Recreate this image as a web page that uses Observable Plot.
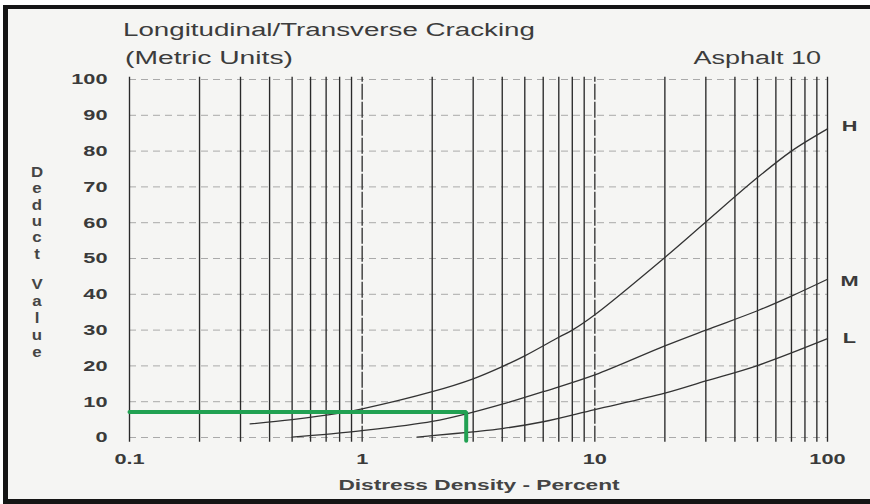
<!DOCTYPE html>
<html>
<head>
<meta charset="utf-8">
<script src="https://cdn.jsdelivr.net/npm/d3@7"></script>
<script src="https://cdn.jsdelivr.net/npm/@observablehq/plot@0.6"></script>
<style>
html,body{margin:0;padding:0;background:#fff;}
#wrap{position:relative;width:870px;height:504px;overflow:hidden;background:#fff;}
#frame{position:absolute;left:3px;top:5px;width:900px;height:499px;box-sizing:border-box;border-left:5px solid #151515;border-top:4px solid #151515;border-bottom:5px solid #151515;background:#f5f5f3;}
#plot{position:absolute;left:0;top:0;}
.t{position:absolute;font-family:"Liberation Sans",Arial,sans-serif;color:#3a3a3a;white-space:nowrap;line-height:1;}
</style>
</head>
<body>
<div id="wrap"><div id="frame"></div><div id="plot"></div></div>
<script>
// ---- data ----
const title = "Longitudinal/Transverse Cracking";
const subtitle = "(Metric Units)";
const tag = "Asphalt 10";
const xLabel = "Distress Density - Percent";
const yLabelTop = "Deduct";
const yLabelBottom = "Value";

const xTicks = [0.1, 1, 10, 100];
const xTickLabels = ["0.1", "1", "10", "100"];
const yTicks = [0, 10, 20, 30, 40, 50, 60, 70, 80, 90, 100];
const xGrid = [0.1, 0.2, 0.3, 0.4, 0.5, 0.6, 0.7, 0.8, 0.9,
               2, 3, 4, 5, 6, 7, 8, 9,
               20, 30, 40, 50, 60, 70, 80, 90, 100];
const xGridDashed = [1, 10];

const hX = [0.33, 0.5, 0.8, 1, 2, 3, 4, 5, 7, 8, 10, 20, 30, 50, 70, 100];
const hY = [3.8, 5.0, 6.8, 8.0, 12.8, 16.4, 19.8, 22.8, 28.0, 30.0, 34.3, 50.3, 60.2, 72.6, 80.0, 86.2];
const mX = [0.5, 0.7, 1, 2, 3, 4, 6, 10, 20, 30, 50, 70, 100];
const mY = [0.1, 0.9, 1.9, 4.5, 7.1, 9.3, 12.8, 17.5, 25.6, 30.0, 35.4, 39.5, 44.2];
const lX = [1.72, 2, 3, 4, 6, 10, 20, 30, 50, 100];
const lY = [0.1, 0.5, 1.6, 2.5, 4.4, 7.8, 12.4, 15.8, 20.1, 27.6];
const seriesNames = ["H", "M", "L"];

const greenX = [0.1, 2.8, 2.8];
const greenY = [7.1, 7.1, -0.9];

// ---- build ----
const toRows = (xs, ys) => xs.map((x, i) => ({x, y: ys[i]}));
const H = toRows(hX, hY), M = toRows(mX, mY), L = toRows(lX, lY), G = toRows(greenX, greenY);
const tickLabel = new Map(xTicks.map((d, i) => [d, xTickLabels[i]]));
const curveStyle = {x: "x", y: "y", curve: "catmull-rom", stroke: "#333", strokeWidth: 1.3};
const endLabel = (rows, name, dy) => Plot.text([rows[rows.length - 1]], {
  x: "x", y: "y", text: () => name, dx: 22, dy, textAnchor: "middle",
  fontSize: 15, fontWeight: "bold", fill: "#3a3a3a"
});

const svg = Plot.plot({
  width: 870, height: 504,
  marginLeft: 129, marginRight: 43, marginTop: 79, marginBottom: 67,
  style: {background: "transparent", fontFamily: "'Liberation Sans', Arial, sans-serif", fontSize: "15px", fontWeight: "bold", color: "#3a3a3a"},
  x: {type: "log", domain: [0.1, 100]},
  y: {domain: [0, 100]},
  marks: [
    Plot.ruleY(yTicks, {x1: 0.1, x2: 100, stroke: "#8a8a8a", strokeDasharray: "7,5", strokeWidth: 1, strokeOpacity: 0.7}),
    Plot.ruleX(xGrid, {y1: -1.3, y2: 100.6, stroke: "#2a2a2a", strokeWidth: 1.35}),
    Plot.ruleX(xGridDashed, {y1: -1.3, y2: 100.6, stroke: "#333", strokeWidth: 1.35, strokeDasharray: "16,2"}),
    Plot.line(H, curveStyle),
    Plot.line(M, curveStyle),
    Plot.line(L, curveStyle),
    Plot.line(G, {x: "x", y: "y", stroke: "#21a152", strokeWidth: 4, strokeLinejoin: "miter"}),
    Plot.axisY({ticks: yTicks, tickSize: 0, tickPadding: 22, label: null}),
    Plot.axisX({ticks: xTicks, tickFormat: d => tickLabel.get(d), tickSize: 0, tickPadding: 16, label: null}),
    endLabel(H, seriesNames[0], -3),
    endLabel(M, seriesNames[1], 2),
    endLabel(L, seriesNames[2], 0)
  ]
});

// horizontally stretch the svg text like the scanned original
d3.select(svg).selectAll("text").each(function() {
  const sx = 1.45;
  const t = this.getAttribute("transform");
  if (t) this.setAttribute("transform", t + ` scale(${sx},1)`);
  else {
    const x = +(this.getAttribute("x") || 0);
    this.setAttribute("x", x / sx);
    this.setAttribute("transform", `scale(${sx},1)`);
  }
});
document.getElementById("plot").appendChild(svg);

const wrap = document.getElementById("wrap");
function label(txt, x, base, size, weight, anchor, sx, color) {
  const d = document.createElement("div");
  d.className = "t";
  d.textContent = txt;
  d.style.fontSize = size + "px";
  d.style.fontWeight = weight;
  if (color) d.style.color = color;
  d.style.top = (base - 0.8465 * size) + "px";
  d.style.left = x + "px";
  const tr = anchor === "start" ? "0%" : anchor === "middle" ? "-50%" : "-100%";
  d.style.transformOrigin = anchor === "start" ? "0 0" : anchor === "middle" ? "50% 0" : "100% 0";
  d.style.transform = `translateX(${tr}) scaleX(${sx})`;
  wrap.appendChild(d);
}
label(title, 123, 36, 18, "normal", "start", 1.54, "#3c3c3c");
label(subtitle, 125, 64, 18, "normal", "start", 1.57, "#3c3c3c");
label(tag, 821, 64, 18, "normal", "end", 1.5, "#3c3c3c");
label(xLabel, 479, 490, 14, "bold", "middle", 1.62, "#444");
[...yLabelTop].forEach((c, i) => label(c, 37, 177 + 16.3 * i, 14, "bold", "middle", 1.2, "#454545"));
[...yLabelBottom].forEach((c, i) => label(c, 37, 289 + 17 * i, 14, "bold", "middle", 1.2, "#454545"));
</script>
</body>
</html>
